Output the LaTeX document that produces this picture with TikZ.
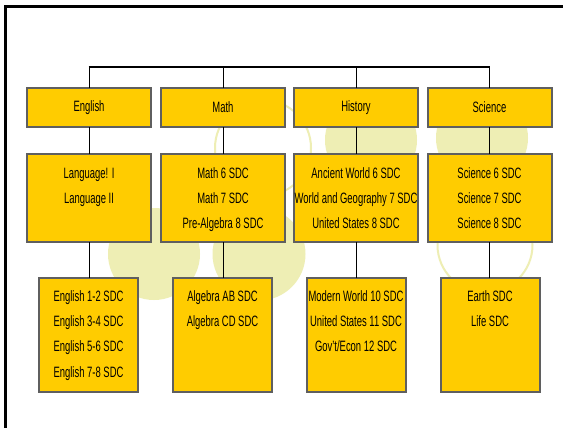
\documentclass[tikz,border=0pt]{standalone}
\usepackage{fontspec}
\setmainfont{Liberation Sans}[FakeStretch=0.63]
\definecolor{gold}{HTML}{FFCC00}
\definecolor{boxgray}{HTML}{5F5F5F}
\definecolor{pale}{RGB}{238,238,180}
\begin{document}
\begin{tikzpicture}[x=1pt,y=-1pt,
  box/.style={draw=boxgray, line width=2pt, fill=gold, inner sep=0pt, outer sep=0pt},
  hdr/.style={box, minimum width=124pt, minimum height=39pt, font=\fontsize{15}{25.3}\selectfont},
  midbox/.style={box, minimum width=124pt, minimum height=88pt},
  lowbox/.style={box, minimum width=99pt, minimum height=114pt},
  lbl/.style={anchor=north, inner sep=0pt, align=center, font=\fontsize{15}{25.3}\selectfont},
  link/.style={draw=black, line width=1pt},
  bus/.style={draw=black, line width=2pt},
  deco/.style={fill=pale},
  ring/.style={draw=pale, line width=2pt}]
\useasboundingbox (0,0) rectangle (563,428);
\fill[white] (0,0) rectangle (563,428);
% background decoration
\fill[deco] (154,254) circle (46);
\fill[deco] (259,254) circle (46.5);
\fill[deco] (371,140) circle (46);
\fill[deco] (482,138) circle (46);
\draw[ring] (263,148) circle (48);
\draw[ring] (485,245) circle (47.5);
% frame
\draw[line width=2.7pt] (5.5,430) -- (5.5,6.5) -- (566,6.5);
% headers
\node[hdr] (h1) at (89,107.5) {English};
\node[hdr] (h2) at (223,107.5) {Math};
\node[hdr] (h3) at (356,107.5) {History};
\node[hdr] (h4) at (489.5,107.5) {Science};
% middle row
\node[midbox] (m1) at (89,198) {};
\node[midbox] (m2) at (223,198) {};
\node[midbox] (m3) at (356,198) {};
\node[midbox] (m4) at (489.5,198) {};
% lower row
\node[lowbox] (l1) at (88.5,335) {};
\node[lowbox] (l2) at (222.5,335) {};
\node[lowbox] (l3) at (356,335) {};
\node[lowbox] (l4) at (490,335) {};
% texts
\node[lbl, yshift=-13pt] (t1) at (m1.north) {\rule{0pt}{11pt}Language! I\\Language II};
\node[lbl, yshift=-13pt] (t2) at (m2.north) {\rule{0pt}{11pt}Math 6 SDC\\Math 7 SDC\\Pre-Algebra 8 SDC};
\node[lbl, yshift=-13pt] (t3) at (m3.north) {\rule{0pt}{11pt}Ancient World 6 SDC\\World and Geography 7 SDC\\United States 8 SDC};
\node[lbl, yshift=-13pt] (t4) at (m4.north) {\rule{0pt}{11pt}Science 6 SDC\\Science 7 SDC\\Science 8 SDC};
\node[lbl, yshift=-12pt] (u1) at (l1.north) {\rule{0pt}{11pt}English 1-2 SDC\\English 3-4 SDC\\English 5-6 SDC\\English 7-8 SDC};
\node[lbl, yshift=-12pt] (u2) at (l2.north) {\rule{0pt}{11pt}Algebra AB SDC\\Algebra CD SDC};
\node[lbl, yshift=-12pt] (u3) at (l3.north) {\rule{0pt}{11pt}Modern World 10 SDC\\United States 11 SDC\\Gov't/Econ 12 SDC};
\node[lbl, yshift=-12pt] (u4) at (l4.north) {\rule{0pt}{11pt}Earth SDC\\Life SDC};
% bus and connectors
\coordinate (b1) at (h1.north |- 0,67.5);
\coordinate (b2) at (h2.north |- 0,67.5);
\coordinate (b3) at (h3.north |- 0,67.5);
\coordinate (b4) at (h4.north |- 0,67.5);
\draw[bus] ([xshift=-0.5pt]b1) -- ([xshift=0.5pt]b4);
\foreach \i in {1,2,3,4} {
  \draw[link] (b\i) -- (h\i.north);
  \draw[link] (h\i.south) -- (m\i.north);
  \draw[link] (m\i.south) -- (m\i.south |- l\i.north);
}
\end{tikzpicture}
\end{document}
